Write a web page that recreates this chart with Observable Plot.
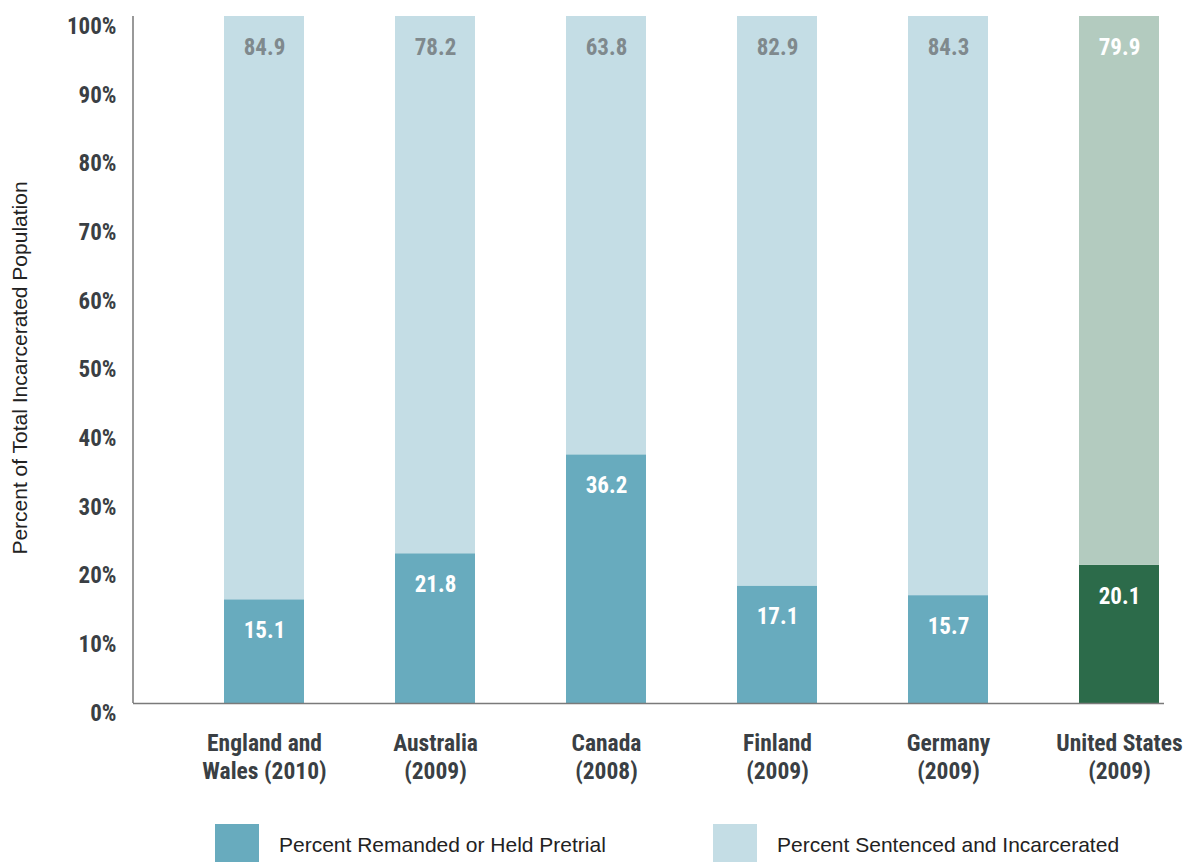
<!DOCTYPE html>
<html>
<head>
<meta charset="utf-8">
<script src="https://cdn.jsdelivr.net/npm/d3@7"></script>
<script src="https://cdn.jsdelivr.net/npm/@observablehq/plot@0.6"></script>
<style>
  html, body { margin: 0; padding: 0; background: #fff; }
  #wrap { position: relative; width: 1188px; height: 862px; }
  #legend { position: absolute; left: 0; top: 824px; width: 1188px; height: 38px; font-family: "Liberation Sans", Arial, sans-serif; }
  .sw { position: absolute; top: 0; width: 44px; height: 38px; }
  .lt { position: absolute; top: 0; line-height: 42px; font-size: 21px; color: #222; white-space: nowrap; }
</style>
</head>
<body>
<div id="wrap">
  <div id="chart"></div>
  <div id="legend"></div>
</div>
<script>
// ---- data ----
const countries = ["England and\nWales (2010)", "Australia\n(2009)", "Canada\n(2008)", "Finland\n(2009)", "Germany\n(2009)", "United States\n(2009)"];
const pretrial = [15.1, 21.8, 36.2, 17.1, 15.7, 20.1];
const sentenced = [84.9, 78.2, 63.8, 82.9, 84.3, 79.9];
const seriesNames = ["Percent Remanded or Held Pretrial", "Percent Sentenced and Incarcerated"];
const yTicks = [0, 10, 20, 30, 40, 50, 60, 70, 80, 90, 100];
const highlighted = "United States\n(2009)";
const yTitle = "Percent of Total Incarcerated Population";

// ---- styles ----
const palette = {
  normal: {pre: "#68abbe", sen: "#c4dde5", preText: "#ffffff", senText: "#7f898d"},
  highlight: {pre: "#2c6b4a", sen: "#b3cbbf", preText: "#ffffff", senText: "#ffffff"}
};
const condFont = '"Roboto Condensed", "Liberation Sans Narrow", "Arial Narrow", "DejaVu Sans Condensed", sans-serif';

const rows = [];
countries.forEach((c, i) => {
  const p = c === highlighted ? palette.highlight : palette.normal;
  rows.push({country: c, series: seriesNames[0], value: pretrial[i], fill: p.pre, textFill: p.preText});
});
countries.forEach((c, i) => {
  const p = c === highlighted ? palette.highlight : palette.normal;
  rows.push({country: c, series: seriesNames[1], value: sentenced[i], fill: p.sen, textFill: p.senText});
});

const chart = Plot.plot({
  width: 1188,
  height: 800,
  marginLeft: 133,
  marginRight: 24,
  marginTop: 16,
  marginBottom: 97,
  style: {fontFamily: condFont, background: "#fff"},
  x: {domain: countries, range: [222, 1161], paddingInner: 0.5343, paddingOuter: 0, label: null},
  y: {domain: [0, 100], label: null},
  marks: [
    Plot.barY(rows, Plot.stackY({x: "country", y: "value", fill: "fill", order: null})),
    Plot.text(rows, Plot.stackY2({x: "country", y: "value", text: d => d.value.toFixed(1), fill: "textFill", order: null, dy: 31, fontSize: 23, fontWeight: "bold"})),
    Plot.ruleY([0], {stroke: "#7a7a7a", strokeWidth: 1.5}),
    (index, scales, values, dimensions) => {
      const g = d3.create("svg:line")
        .attr("x1", dimensions.marginLeft).attr("x2", dimensions.marginLeft)
        .attr("y1", scales.y(100)).attr("y2", scales.y(0))
        .attr("stroke", "#555").attr("stroke-width", 1.2);
      return g.node();
    },
    Plot.axisY({ticks: yTicks, tickFormat: d => d + "%", tickSize: 0, tickPadding: 17, dy: 10, fontSize: 23, fontWeight: "bold", fill: "#3a3f44", label: null}),
    Plot.axisX({tickSize: 0, tickPadding: 28, fontSize: 23.5, fontWeight: "bold", fill: "#3a3f44", lineHeight: 1.19, label: null}),
    Plot.text([yTitle], {frameAnchor: "left", dx: -113, dy: 8, rotate: -90, textAnchor: "middle", fontSize: 21, fill: "#222", fontFamily: '"Liberation Sans", Arial, sans-serif'})
  ]
});
document.getElementById("chart").appendChild(chart);

// ---- legend ----
const legend = document.getElementById("legend");
const legendItems = [
  {name: seriesNames[0], color: palette.normal.pre, x: 215},
  {name: seriesNames[1], color: palette.normal.sen, x: 713}
];
legendItems.forEach(it => {
  const sw = document.createElement("div");
  sw.className = "sw"; sw.style.left = it.x + "px"; sw.style.background = it.color;
  legend.appendChild(sw);
  const t = document.createElement("div");
  t.className = "lt"; t.style.left = (it.x + 64) + "px"; t.textContent = it.name;
  legend.appendChild(t);
});
</script>
</body>
</html>
